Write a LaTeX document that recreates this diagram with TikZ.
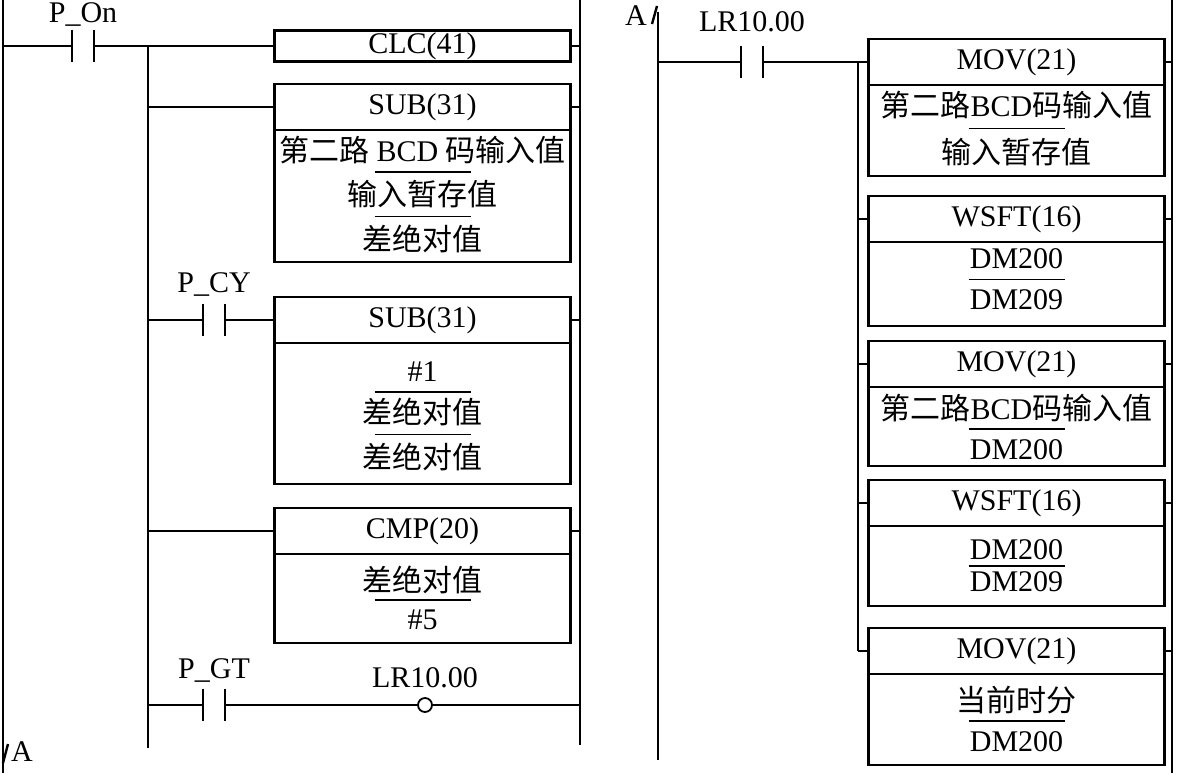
\documentclass[tikz,border=0pt]{standalone}
\usepackage{fontspec}
\setmainfont{Liberation Serif}
\newfontfamily\cjk{Noto Sans CJK SC}
\newcommand{\zh}[1]{{\cjk #1}}
\usetikzlibrary{calc}

\tikzset{
  rung/.style={line width=0.7pt},
  plate/.style={line width=1pt},
  fbox/.style={draw, line width=1.4pt, minimum width=148pt, inner sep=0pt},
  hdr/.style={fbox, minimum height=23pt, anchor=north},
  contact/.style={minimum width=11pt, minimum height=16pt, inner sep=0pt},
  coil/.style={draw, circle, minimum size=7pt, inner sep=0pt, line width=0.9pt},
  bar/.style={line width=0.8pt}
}

\begin{document}
\begin{tikzpicture}[x=0.5pt, y=-0.5pt, font=\fontsize{15}{18}\selectfont]
            \useasboundingbox (0,0) rectangle (1178,773);

            % Rails
            \coordinate (ll) at (3,0);
            \coordinate (lb) at (148,0);
            \coordinate (lr) at (580,0);
            \coordinate (rl) at (658,12);
            \coordinate (rb) at (858,0);
            \coordinate (rr) at (1172,0);
            \draw[rung] (ll) -- (3,773);
            \draw[rung] (lr) -- (580,745);
            \draw[rung] (rl) -- (658,760);
            \draw[rung] (rr) -- (1172,773);

            % Left part: nodes
            \node[contact] (pon) at (83,46) {};
            \node (pont) at (83,14) {P\_On};
            \node[fbox, minimum height=15.5pt] (clc) at (422.5,46) {CLC(41)};

            \node[fbox, minimum height=89pt] (sub1) at (422.5,173) {};
            \node[hdr] (sub1h) at (sub1.north) {SUB(31)};
            \node (sub1a) at (422.5,150) {\zh{第二路} BCD \zh{码输入值}};
            \node (sub1b) at (422.5,194) {\zh{输入暂存值}};
            \node (sub1c) at (422.5,239) {\zh{差绝对值}};

            \node[contact] (pcy) at (214,320) {};
            \node (pcyt) at (214,284) {P\_CY};
            \node[fbox, minimum height=93.5pt] (sub2) at (422.5,390.5) {};
            \node[hdr] (sub2h) at (sub2.north) {SUB(31)};
            \node (sub2a) at (422.5,372) {\#1};
            \node (sub2b) at (422.5,412) {\zh{差绝对值}};
            \node (sub2c) at (422.5,457) {\zh{差绝对值}};

            \node[fbox, minimum height=67.5pt] (cmp) at (422.5,575.5) {};
            \node[hdr] (cmph) at (cmp.north) {CMP(20)};
            \node (cmpa) at (422.5,580) {\zh{差绝对值}};
            \node (cmpb) at (422.5,620) {\#5};

            \node[contact] (pgt) at (214,705) {};
            \node (pgtt) at (214,670) {P\_GT};
            \node[coil] (lrq) at (425,705) {};
            \node (lrqt) at (425,678) {LR10.00};

            \node (abot) at (22,752) {A};

            % Right part: nodes
            \node (atop) at (636,16) {A};
            \node[contact] (lrc) at (752,62) {};
            \node (lrct) at (752,22) {LR10.00};

            \node[fbox, minimum height=68.5pt] (mov1) at (1016.5,107.5) {};
            \node[hdr] (mov1h) at (mov1.north) {MOV(21)};
            \node (mov1a) at (1016.5,105) {\zh{第二路}BCD\zh{码输入值}};
            \node (mov1b) at (1016.5,152) {\zh{输入暂存值}};

            \node[fbox, minimum height=65pt] (wsft1) at (1016.5,261) {};
            \node[hdr] (wsft1h) at (wsft1.north) {WSFT(16)};
            \node (wsft1a) at (1016.5,259) {DM200};
            \node (wsft1b) at (1016.5,300) {DM209};

            \node[fbox, minimum height=62.5pt] (mov2) at (1016.5,403.5) {};
            \node[hdr] (mov2h) at (mov2.north) {MOV(21)};
            \node (mov2a) at (1016.5,408) {\zh{第二路}BCD\zh{码输入值}};
            \node (mov2b) at (1016.5,450) {DM200};

            \node[fbox, minimum height=63pt] (wsft2) at (1016.5,543) {};
            \node[hdr] (wsft2h) at (wsft2.north) {WSFT(16)};
            \node (wsft2a) at (1016.5,550) {DM200};
            \node (wsft2b) at (1016.5,582) {DM209};

            \node[fbox, minimum height=68.5pt] (mov3) at (1016.5,696.5) {};
            \node[hdr] (mov3h) at (mov3.north) {MOV(21)};
            \node (mov3a) at (1016.5,700) {\zh{当前时分}};
            \node (mov3b) at (1016.5,742) {DM200};

            % Contact plates
            \foreach \c in {pon,pcy,pgt,lrc}
              \draw[plate] (\c.north west) -- (\c.south west) (\c.north east) -- (\c.south east);

            % Operand bars
            \foreach \p/\q in {sub1a/sub1b, sub1b/sub1c, sub2a/sub2b, sub2b/sub2c, cmpa/cmpb,
                               mov1a/mov1b, wsft1a/wsft1b, mov2a/mov2b, wsft2a/wsft2b, mov3a/mov3b}
              \draw[bar] ($(\p)!.5!(\q)$) ++(-24pt,0) -- ++(48pt,0);

            % Left part: lines
            \draw[rung] (pon.west -| ll) -- (pon.west);
            \draw[rung] (pon.east) -- (clc.west);
            \draw[rung] (clc.west -| lb) -- (148,748);
            \draw[rung] (sub1h.west -| lb) -- (sub1h.west);
            \draw[rung] (pcy.west -| lb) -- (pcy.west);
            \draw[rung] (pcy.east) -- (sub2h.west);
            \draw[rung] (cmph.west -| lb) -- (cmph.west);
            \draw[rung] (pgt.west -| lb) -- (pgt.west);
            \draw[rung] (pgt.east) -- (lrq.west);
            \draw[rung] (lrq.east) -- (lrq.east -| lr);
            \foreach \h in {clc,sub1h,sub2h,cmph}
              \draw[rung] (\h.east) -- (\h.east -| lr);
            \draw[line width=1.2pt] (3,763) -- (8,744);

            % Right part: lines
            \draw[line width=1.2pt] (652,24) -- (657,6);
            \draw[rung] (lrc.west -| rl) -- (lrc.west);
            \draw[rung] (lrc.east) -- (mov1h.west);
            \draw[rung] (mov1h.west -| rb) -- (mov3h.west -| rb);
            \foreach \h in {wsft1h,mov2h,wsft2h,mov3h}
              \draw[rung] (\h.west -| rb) -- (\h.west);
            \foreach \h in {mov1h,wsft1h,mov2h,wsft2h,mov3h}
              \draw[rung] (\h.east) -- (\h.east -| rr);
        \end{tikzpicture}
\end{document}
